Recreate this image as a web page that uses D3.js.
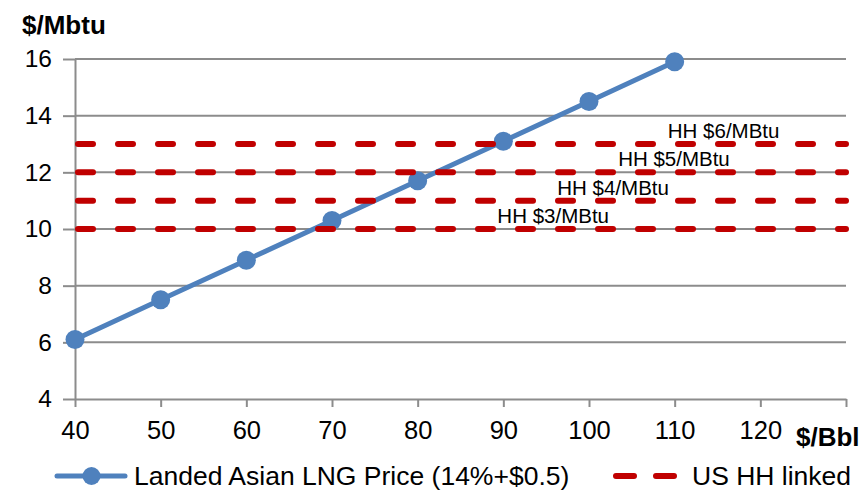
<!DOCTYPE html>
<html>
<head>
<meta charset="utf-8">
<script src="https://cdn.jsdelivr.net/npm/d3@7"></script>
<style>
  html, body { margin: 0; padding: 0; background: #fff; }
  svg { display: block; font-family: "Liberation Sans", Arial, sans-serif; }
</style>
</head>
<body>
<svg id="chart" width="865" height="493"></svg>
<script>
// Oil price ($/Bbl) and the oil-indexed landed LNG price ($/MMBtu)
const oilPrices = [40, 50, 60, 70, 80, 90, 100, 110];
const lngPrices = [6.1, 7.5, 8.9, 10.3, 11.7, 13.1, 14.5, 15.9];

// Henry Hub gas price and the resulting US-linked delivered price
const hhPrices = [3, 4, 5, 6];
const hhLevels = [10, 11, 12, 13];
// where each Henry Hub label starts, in $/Bbl
const hhLabelAt = [89.3, 96.3, 103.4, 109.2];

const xTicks = [40, 50, 60, 70, 80, 90, 100, 110, 120, 130];
const xTickLabels = ["40", "50", "60", "70", "80", "90", "100", "110", "120", ""];
const yTicks = [4, 6, 8, 10, 12, 14, 16];

const seriesNames = ["Landed Asian LNG Price (14%+$0.5)", "US HH linked"];

const blue = "#4f81bd";
const red = "#c00000";
const grid = "#8c8c8c";

const svg = d3.select("#chart");

const x = d3.scaleLinear().domain([40, 130]).range([75, 846]);
const y = d3.scaleLinear().domain([4, 16]).range([399, 59]);

// horizontal gridlines
svg.append("g")
  .selectAll("line")
  .data(yTicks.filter(v => v > 4))
  .join("line")
  .attr("x1", x(40)).attr("x2", x(130))
  .attr("y1", d => y(d)).attr("y2", d => y(d))
  .attr("stroke", grid).attr("stroke-width", 2);

// y axis
const yAxis = svg.append("g")
  .attr("transform", `translate(${x(40)},0)`)
  .call(d3.axisLeft(y).tickValues(yTicks).tickSize(12).tickPadding(11).tickSizeOuter(0));
yAxis.select(".domain").attr("stroke", grid).attr("stroke-width", 2);
yAxis.selectAll(".tick line").attr("stroke", grid).attr("stroke-width", 2);
yAxis.selectAll(".tick text")
  .attr("fill", "#000")
  .style("font-family", "Liberation Sans, Arial, sans-serif")
  .style("font-size", "24.5px");

// x axis
const xAxis = svg.append("g")
  .attr("transform", `translate(0,${y(4)})`)
  .call(d3.axisBottom(x).tickValues(xTicks).tickFormat((d, i) => xTickLabels[i])
    .tickSize(8).tickPadding(14).tickSizeOuter(0));
xAxis.select(".domain").attr("stroke", grid).attr("stroke-width", 2);
xAxis.selectAll(".tick line").attr("stroke", grid).attr("stroke-width", 2);
xAxis.selectAll(".tick text")
  .attr("fill", "#000")
  .style("font-family", "Liberation Sans, Arial, sans-serif")
  .style("font-size", "25.5px");

// axis titles
svg.append("text")
  .attr("x", 22).attr("y", 34)
  .attr("font-size", 26).attr("font-weight", "bold")
  .text("$/Mbtu");
svg.append("text")
  .attr("x", 796).attr("y", 446)
  .attr("font-size", 26).attr("font-weight", "bold")
  .text("$/Bbl");

// landed LNG price line with markers
const pts = oilPrices.map((o, i) => [o, lngPrices[i]]);
svg.append("path")
  .datum(pts)
  .attr("fill", "none")
  .attr("stroke", blue)
  .attr("stroke-width", 5)
  .attr("stroke-linejoin", "round")
  .attr("d", d3.line().x(d => x(d[0])).y(d => y(d[1])));
svg.append("g")
  .selectAll("circle")
  .data(pts)
  .join("circle")
  .attr("cx", d => x(d[0])).attr("cy", d => y(d[1]))
  .attr("r", 9.5)
  .attr("fill", blue);

// Henry Hub linked levels (dashed)
svg.append("g")
  .selectAll("line")
  .data(hhLevels)
  .join("line")
  .attr("x1", x(40) + 3).attr("x2", x(130))
  .attr("y1", d => y(d)).attr("y2", d => y(d))
  .attr("stroke", red)
  .attr("stroke-width", 6)
  .attr("stroke-linecap", "round")
  .attr("stroke-dasharray", "15,25");

svg.append("g")
  .selectAll("text")
  .data(hhPrices)
  .join("text")
  .attr("x", (d, i) => x(hhLabelAt[i]))
  .attr("y", (d, i) => y(hhLevels[i]) - 6)
  .attr("font-size", 20.5)
  .text(d => `HH $${d}/MBtu`);

// legend
const lg = svg.append("g");
lg.append("line")
  .attr("x1", 57).attr("x2", 125).attr("y1", 476).attr("y2", 476)
  .attr("stroke", blue).attr("stroke-width", 5).attr("stroke-linecap", "round");
lg.append("circle").attr("cx", 91.5).attr("cy", 476).attr("r", 9).attr("fill", blue);
lg.append("text").attr("x", 134).attr("y", 485).attr("font-size", 26.5).text(seriesNames[0]);

lg.append("line")
  .attr("x1", 616).attr("x2", 676).attr("y1", 476).attr("y2", 476)
  .attr("stroke", red).attr("stroke-width", 6).attr("stroke-linecap", "round")
  .attr("stroke-dasharray", "18,22");
lg.append("text").attr("x", 692).attr("y", 485).attr("font-size", 26.5).text(seriesNames[1]);
</script>
</body>
</html>
